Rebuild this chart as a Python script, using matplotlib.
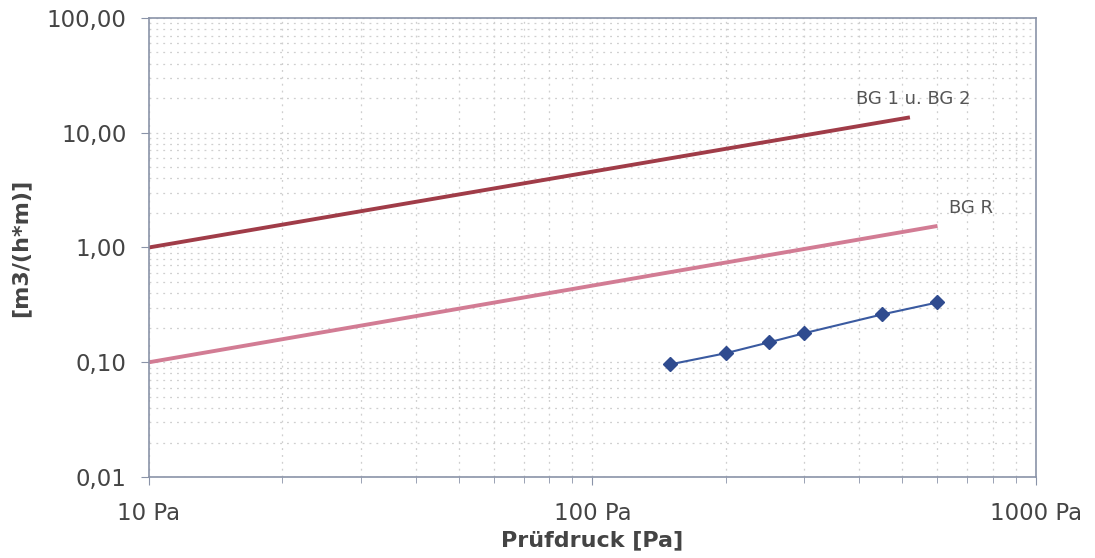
import matplotlib.pyplot as plt
from matplotlib.ticker import FuncFormatter, LogLocator, NullFormatter

# Grenzkurven (Endpunkte der Geraden im log-log-Diagramm)
bg12_p = [10, 520]
bg12_q = [1.0, 13.6]
bgr_p = [10, 600]
bgr_q = [0.10, 1.54]

# Messwerte
mess_p = [150, 200, 250, 300, 450, 600]
mess_q = [0.096, 0.12, 0.149, 0.179, 0.261, 0.332]

y_ticks = [0.01, 0.1, 1, 10, 100]
x_ticks = [10, 100, 1000]

fig = plt.figure(figsize=(10.95, 5.58), dpi=100)
ax = fig.add_axes([0.136, 0.145, 0.81, 0.823])

ax.plot(bg12_p, bg12_q, color='#a03c48', lw=2.8, solid_capstyle='butt')
ax.plot(bgr_p, bgr_q, color='#d27c94', lw=2.8, solid_capstyle='butt')
ax.plot(mess_p, mess_q, color='#3a5aa0', lw=1.5, marker='D', ms=7,
        markerfacecolor='#2f4b8f', markeredgecolor='#2f4b8f')

ax.set_xscale('log')
ax.set_yscale('log')
ax.set_xlim(10, 1000)
ax.set_ylim(0.01, 100)

ax.set_xticks(x_ticks)
ax.xaxis.set_major_formatter(FuncFormatter(lambda v, p: f"{v:.0f} Pa"))
ax.set_yticks(y_ticks)
ax.yaxis.set_major_formatter(FuncFormatter(lambda v, p: f"{v:.2f}".replace('.', ',')))
ax.xaxis.set_minor_locator(LogLocator(base=10, subs=range(2, 10)))
ax.yaxis.set_minor_locator(LogLocator(base=10, subs=range(2, 10)))
ax.xaxis.set_minor_formatter(NullFormatter())
ax.yaxis.set_minor_formatter(NullFormatter())

# Gitter fein gepunktet, wie im Original
ax.grid(True, which='both', color='#cfcfcf', linestyle=(0, (1.5, 4)), lw=0.9)
ax.set_axisbelow(True)

for s in ax.spines.values():
    s.set_color('#8a93a8')
    s.set_linewidth(1.2)

ax.tick_params(axis='both', which='major', labelsize=16.5, labelcolor='#444444',
               color='#8a93a8', length=6, direction='out')
ax.tick_params(axis='y', which='major', pad=10)
ax.tick_params(axis='y', which='minor', length=0)
ax.tick_params(axis='x', which='minor', length=4, color='#8a93a8')
ax.tick_params(axis='x', which='major', pad=12)

ax.set_xlabel("Prüfdruck [Pa]", fontsize=16, fontweight='bold', color='#444444', labelpad=4)
ax.set_ylabel("[m3/(h*m)]", fontsize=16, fontweight='bold', color='#444444', labelpad=12)

ax.text(528, 16.5, "BG 1 u. BG 2", fontsize=13, color='#555555', ha='center', va='bottom')
ax.text(715, 1.85, "BG R", fontsize=13, color='#555555', ha='center', va='bottom')

fig.savefig('out.png', dpi=100)
